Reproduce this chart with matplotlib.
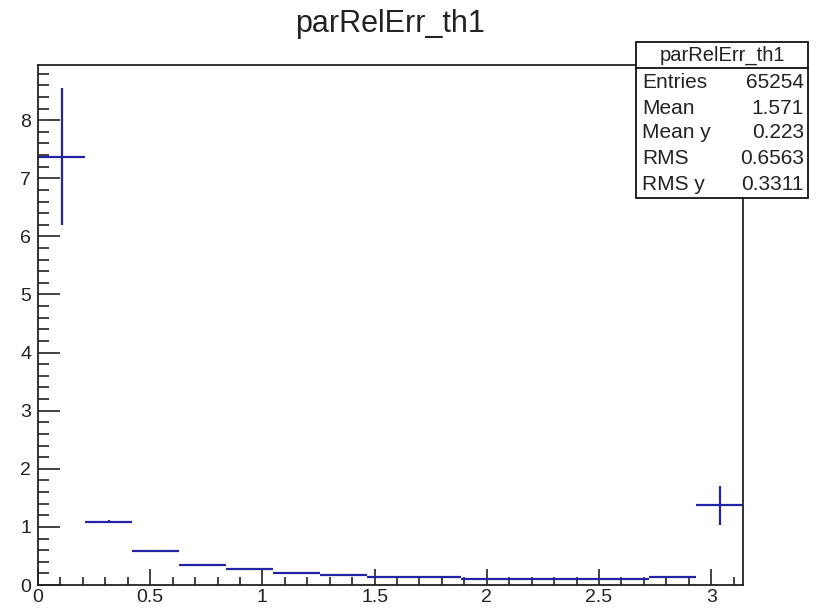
import numpy as np
import matplotlib
matplotlib.use("Agg")
import matplotlib.pyplot as plt
from matplotlib.patches import Rectangle
from matplotlib.ticker import MultipleLocator, FormatStrFormatter

plt.rcParams['font.family'] = ['Liberation Sans', 'DejaVu Sans']

title = "parRelErr_th1"
x_min, x_max = 0.0, np.pi
n_bins = 15
values = [7.37, 1.09, 0.58, 0.34, 0.28, 0.21, 0.17, 0.14, 0.14, 0.11, 0.11, 0.11, 0.11, 0.14, 1.37]
errors = [1.18, 0.03, 0.01, 0.01, 0.01, 0.01, 0.01, 0.005, 0.005, 0.005, 0.005, 0.005, 0.005, 0.02, 0.33]
stat_labels = ["Entries", "Mean", "Mean y", "RMS", "RMS y"]
stat_values = ["65254", "1.571", "0.223", "0.6563", "0.3311"]

edges = np.linspace(x_min, x_max, n_bins + 1)
centers = 0.5 * (edges[:-1] + edges[1:])
halfw = 0.5 * (edges[1] - edges[0])

W, H = 827, 610
fig = plt.figure(figsize=(W / 100, H / 100), dpi=100)
ax = fig.add_axes([38 / W, 1 - 585 / H, (743 - 38) / W, (585 - 65) / H])

blue = '#2323a6'
ax.errorbar(centers, values, xerr=halfw, yerr=errors, fmt='none',
            ecolor=blue, elinewidth=1.6, capsize=0)

ax.set_xlim(x_min, x_max)
ax.set_ylim(0, 8.95)
ax.xaxis.set_major_locator(MultipleLocator(0.5))
ax.xaxis.set_minor_locator(MultipleLocator(0.1))
ax.xaxis.set_major_formatter(FormatStrFormatter('%g'))
ax.yaxis.set_major_locator(MultipleLocator(1))
ax.yaxis.set_minor_locator(MultipleLocator(0.2))
ax.tick_params(which='both', direction='in', labelsize=14, width=1.2, colors='#222222')
ax.tick_params(axis='x', which='major', length=11.5, pad=3)
ax.tick_params(axis='x', which='minor', length=6)
ax.tick_params(axis='y', which='major', length=16, pad=5)
ax.tick_params(axis='y', which='minor', length=8)
for s in ax.spines.values():
    s.set_linewidth(1.3)
    s.set_color('#222222')

def fx(px):
    return px / W

def fy(py):
    return 1 - py / H

fig.text(fx(390), fy(24), title, ha='center', va='center', fontsize=22, color='#222222')

# stats box
bx0, bx1, by0, by1 = 636, 808, 42, 198
box = Rectangle((fx(bx0), fy(by1)), fx(bx1) - fx(bx0), fy(by0) - fy(by1),
                transform=fig.transFigure, facecolor='white', edgecolor='#111111',
                linewidth=1.3, zorder=10)
fig.add_artist(box)
fig.add_artist(plt.Line2D([fx(bx0), fx(bx1)], [fy(68), fy(68)], transform=fig.transFigure,
                          color='#111111', linewidth=1.3, zorder=11))
fig.text(fx((bx0 + bx1) / 2), fy(55), title, ha='center', va='center', fontsize=14.5,
         color='#222222', zorder=12)
row_y = [83, 108, 133, 158, 184]
for lab, val, yy in zip(stat_labels, stat_values, row_y):
    fig.text(fx(bx0 + 6), fy(yy), lab, ha='left', va='center', fontsize=15,
             color='#222222', zorder=12)
    fig.text(fx(bx1 - 4), fy(yy), val, ha='right', va='center', fontsize=15,
             color='#222222', zorder=12)

fig.savefig("out.png", dpi=100, facecolor='white')
